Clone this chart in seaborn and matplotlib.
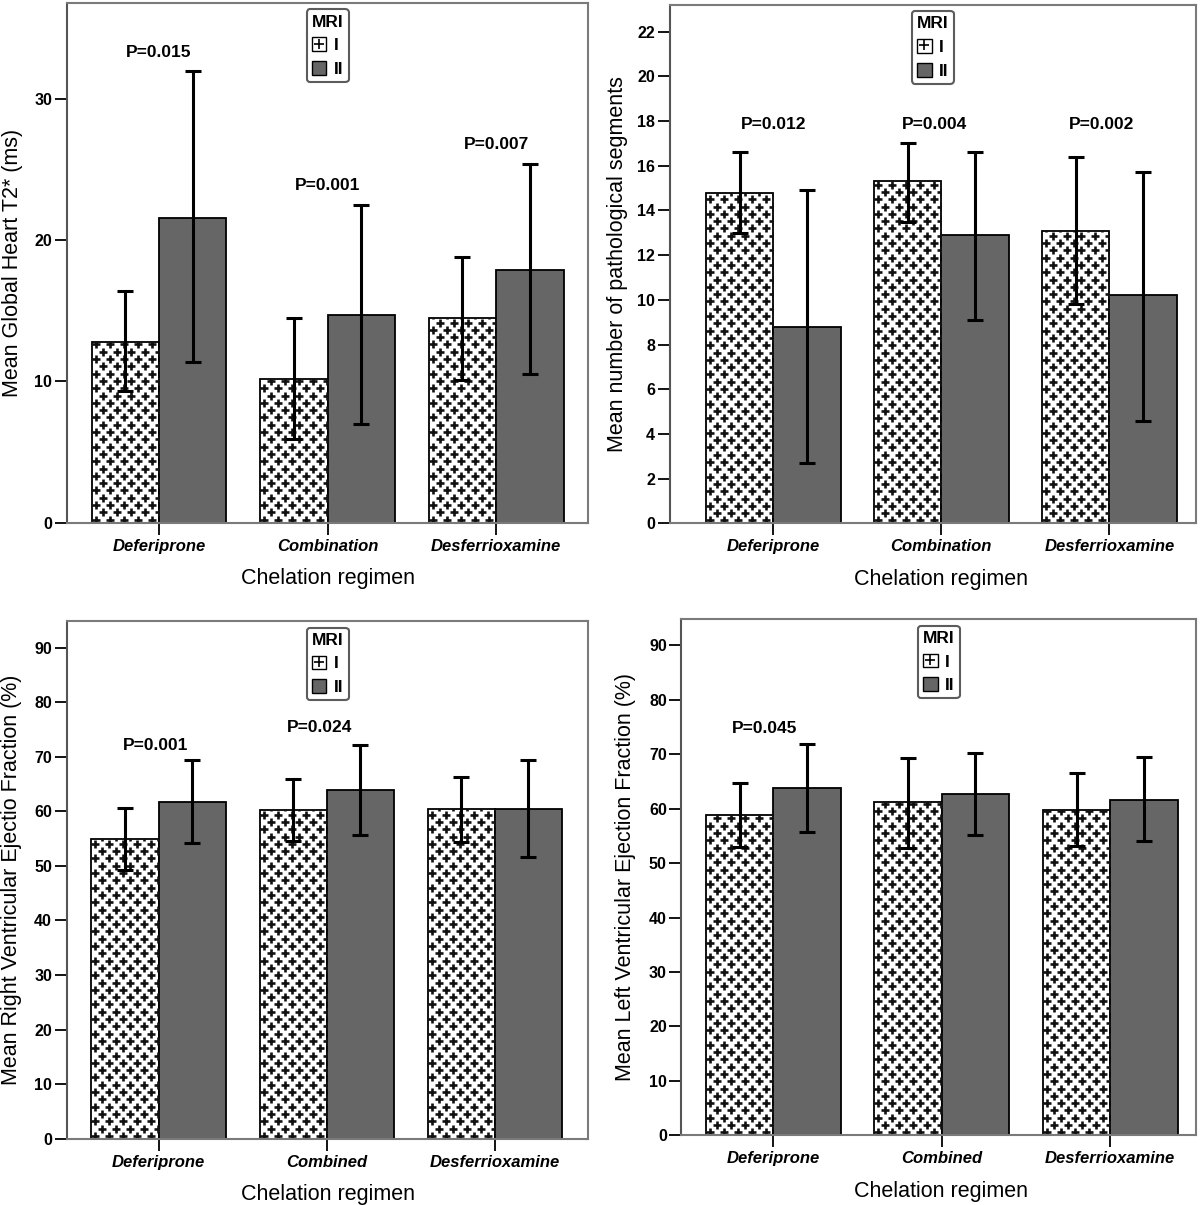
import matplotlib
matplotlib.use('Agg')
import numpy as np
import pandas as pd
import matplotlib.pyplot as plt
from matplotlib.patches import Patch
from matplotlib.lines import Line2D
import seaborn as sns

# categories
regimens_top = ['Deferiprone', 'Combination', 'Desferrioxamine']
regimens_bottom = ['Deferiprone', 'Combined', 'Desferrioxamine']
mri_levels = ['I', 'II']

# global heart T2* (ms): means and error bar bounds
t2_mean_I = [12.8, 10.2, 14.5]
t2_mean_II = [21.6, 14.7, 17.9]
t2_lo_I = [9.3, 5.9, 10.1]
t2_hi_I = [16.4, 14.5, 18.8]
t2_lo_II = [11.4, 7.0, 10.5]
t2_hi_II = [32.0, 22.5, 25.4]
t2_p = ['P=0.015', 'P=0.001', 'P=0.007']

# number of pathological segments
seg_mean_I = [14.8, 15.3, 13.1]
seg_mean_II = [8.8, 12.9, 10.2]
seg_lo_I = [13.0, 13.5, 9.8]
seg_hi_I = [16.6, 17.0, 16.4]
seg_lo_II = [2.7, 9.1, 4.6]
seg_hi_II = [14.9, 16.6, 15.7]
seg_p = ['P=0.012', 'P=0.004', 'P=0.002']

# right ventricular ejection fraction (%)
rvef_mean_I = [54.9, 60.2, 60.4]
rvef_mean_II = [61.7, 63.9, 60.5]
rvef_lo_I = [49.2, 54.6, 54.3]
rvef_hi_I = [60.6, 65.9, 66.3]
rvef_lo_II = [54.2, 55.6, 51.7]
rvef_hi_II = [69.4, 72.2, 69.4]
rvef_p = ['P=0.001', 'P=0.024', '']

# left ventricular ejection fraction (%)
lvef_mean_I = [58.8, 61.2, 59.8]
lvef_mean_II = [63.8, 62.7, 61.7]
lvef_lo_I = [53.0, 52.8, 53.1]
lvef_hi_I = [64.7, 69.3, 66.6]
lvef_lo_II = [55.7, 55.2, 54.1]
lvef_hi_II = [71.9, 70.3, 69.5]
lvef_p = ['P=0.045', '', '']

panels = [
    dict(regimens=regimens_top, mean=(t2_mean_I, t2_mean_II),
         lo=(t2_lo_I, t2_lo_II), hi=(t2_hi_I, t2_hi_II), p=t2_p,
         ylabel='Mean Global Heart T2* (ms)', yticks=[0, 10, 20, 30]),
    dict(regimens=regimens_top, mean=(seg_mean_I, seg_mean_II),
         lo=(seg_lo_I, seg_lo_II), hi=(seg_hi_I, seg_hi_II), p=seg_p,
         ylabel='Mean number of pathological segments', yticks=list(range(0, 23, 2))),
    dict(regimens=regimens_bottom, mean=(rvef_mean_I, rvef_mean_II),
         lo=(rvef_lo_I, rvef_lo_II), hi=(rvef_hi_I, rvef_hi_II), p=rvef_p,
         ylabel='Mean Right Ventricular Ejectio Fraction (%)', yticks=list(range(0, 91, 10))),
    dict(regimens=regimens_bottom, mean=(lvef_mean_I, lvef_mean_II),
         lo=(lvef_lo_I, lvef_lo_II), hi=(lvef_hi_I, lvef_hi_II), p=lvef_p,
         ylabel='Mean Left Ventricular Ejection Fraction (%)', yticks=list(range(0, 91, 10))),
]

# layout: axes rect, limits, p-label positions, label coords
layout = [
    dict(rect=[0.0555, 0.5663, 0.4349, 0.4311], xlim=(-0.548, 2.548), ylim=(0, 36.8),
         p_x=[0, 1, 2], p_y=[33.3, 23.9, 26.8], ylab_x=-0.104, xlab_x=0.50),
    dict(rect=[0.5581, 0.5656, 0.4386, 0.4305], xlim=(-0.616, 2.515), ylim=(0, 23.2),
         p_x=[0, 0.96, 1.95], p_y=[17.85, 17.85, 17.85], ylab_x=-0.100, xlab_x=0.515),
    dict(rect=[0.0555, 0.0549, 0.4349, 0.4295], xlim=(-0.548, 2.557), ylim=(0, 94.8),
         p_x=[-0.02, 0.96, 2], p_y=[72.1, 75.3, 0], ylab_x=-0.105, xlab_x=0.50),
    dict(rect=[0.5678, 0.0578, 0.4291, 0.4282], xlim=(-0.545, 2.51), ylim=(0, 94.8),
         p_x=[-0.05, 1, 2], p_y=[74.7, 0, 0], ylab_x=-0.109, xlab_x=0.504),
]

sns.set_style('white')
plt.rcParams['font.family'] = ['Liberation Sans', 'DejaVu Sans']
for key in ['text.color', 'axes.labelcolor', 'xtick.color', 'ytick.color']:
    plt.rcParams[key] = 'black'

SPINE = '#7a7a7a'
DARK = '#666666'


def add_plus_pattern(ax, patch, dx=14.0, dy=7.3):
    # staggered lattice of small plus signs, clipped to the bar
    x0 = patch.get_x()
    x1 = x0 + patch.get_width()
    h = patch.get_height()
    (px0, py0), (px1, py1) = ax.transData.transform([(x0, 0), (x1, h)])
    pts = []
    row = 0
    y = py0 + 3
    while y < py1 + dy:
        x = px0 + 4 + (dx / 2 if row % 2 else 0)
        while x < px1 + dx:
            pts.append((x, y))
            x += dx
        y += dy
        row += 1
    data = ax.transData.inverted().transform(pts)
    sc = ax.scatter(data[:, 0], data[:, 1], marker='+', s=32, linewidths=1.9,
                    color='#111111', zorder=1.5)
    sc.set_clip_path(patch)


fig = plt.figure(figsize=(12, 12.05), dpi=100)

for spec, lay in zip(panels, layout):
    ax = fig.add_axes(lay['rect'])
    df = pd.DataFrame({
        'regimen': spec['regimens'] * 2,
        'MRI': ['I'] * 3 + ['II'] * 3,
        'mean': list(spec['mean'][0]) + list(spec['mean'][1]),
    })
    sns.barplot(data=df, x='regimen', y='mean', hue='MRI', order=spec['regimens'],
                hue_order=mri_levels, palette={'I': 'white', 'II': DARK},
                edgecolor='black', linewidth=1.3, saturation=1, errorbar=None,
                legend=False, ax=ax)
    ax.set_xlim(*lay['xlim'])
    ax.set_ylim(*lay['ylim'])

    bars = sorted(ax.patches, key=lambda p: p.get_x())
    for k, level in enumerate(mri_levels):
        lvl_bars = bars[k::2]
        xs = [b.get_x() + b.get_width() / 2 for b in lvl_bars]
        m = np.array(spec['mean'][k])
        lo = np.array(spec['lo'][k])
        hi = np.array(spec['hi'][k])
        ax.errorbar(xs, m, yerr=[m - lo, hi - m], fmt='none', ecolor='black',
                    elinewidth=2.2, capsize=5.5, capthick=2.2, zorder=3)
        if level == 'I':
            for b in lvl_bars:
                add_plus_pattern(ax, b)

    for txt, px, py in zip(spec['p'], lay['p_x'], lay['p_y']):
        if txt:
            ax.text(px, py, txt, ha='center', va='center', fontsize=12.5,
                    fontweight='bold')

    ax.set_yticks(spec['yticks'])
    ax.set_yticklabels([str(t) for t in spec['yticks']], fontsize=11.5, fontweight='bold')
    ax.set_xticks(range(3))
    ax.set_xticklabels(spec['regimens'], fontsize=12, fontweight='bold', style='italic')
    ax.tick_params(axis='y', length=8.5, width=1.3, color='black', direction='out', pad=2, left=True)
    ax.tick_params(axis='x', length=8.5, width=1.3, color='black', direction='out', pad=3, bottom=True)

    ax.set_ylabel(spec['ylabel'], fontsize=15.5)
    ax.set_xlabel('Chelation regimen', fontsize=15.5)
    ax.yaxis.set_label_coords(lay['ylab_x'], 0.5)
    ax.xaxis.set_label_coords(lay['xlab_x'], -0.108)
    ax.yaxis.label.set_verticalalignment('center')
    ax.xaxis.label.set_verticalalignment('center')

    for s in ax.spines.values():
        s.set_visible(True)
        s.set_color(SPINE)
        s.set_linewidth(1.5)
    ax.spines['left'].set_color('#555555')

    h_I = (Patch(facecolor='white', edgecolor='black', linewidth=1.0),
           Line2D([], [], marker='+', color='black', linestyle='none',
                  markersize=7, markeredgewidth=1.2))
    h_II = Patch(facecolor=DARK, edgecolor='black', linewidth=1.0)
    leg = ax.legend([h_I, h_II], mri_levels, title='MRI', loc='upper center',
                    bbox_to_anchor=(0.5, 0.988), borderaxespad=0, frameon=True,
                    fancybox=True, handlelength=0.85, handleheight=0.85,
                    handletextpad=0.4, labelspacing=0.45, borderpad=0.3,
                    alignment='left', prop={'weight': 'bold', 'size': 12.5},
                    title_fontproperties={'weight': 'bold', 'size': 12.5})
    leg.get_frame().set_edgecolor('#333333')
    leg.get_frame().set_linewidth(1.5)

fig.savefig('out.png', dpi=100)
plt.close(fig)
